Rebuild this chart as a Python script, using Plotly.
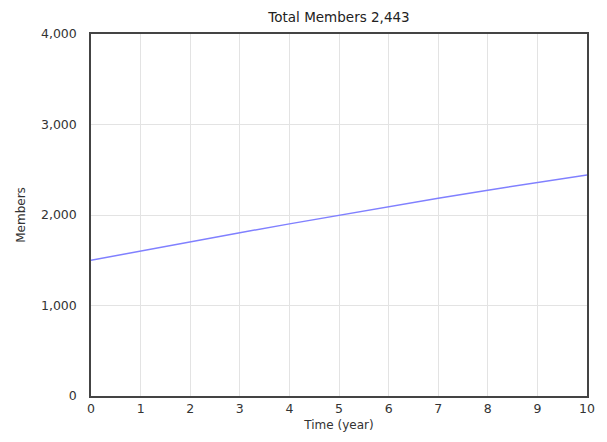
import plotly.graph_objects as go

years = [0, 1, 2, 3, 4, 5, 6, 7, 8, 9, 10]
members = [1500, 1603, 1705, 1804, 1902, 1998, 2092, 2184, 2274, 2360, 2443]
title_text = "Total Members 2,443"
x_title = "Time (year)"
y_title = "Members"

font_family = "DejaVu Sans, Verdana, sans-serif"

fig = go.Figure()
fig.add_trace(go.Scatter(x=years, y=members, mode="lines",
                         line=dict(color="#8080ff", width=1.5),
                         hoverinfo="skip", showlegend=False))

fig.update_layout(
    width=599, height=434,
    paper_bgcolor="white", plot_bgcolor="white",
    margin=dict(l=79, r=16, t=26, b=38),
    font=dict(family=font_family, color="#333333", size=12),
    title=dict(text=title_text, x=0.5526, xanchor="center", y=0.979, yanchor="middle",
               font=dict(size=13.5, color="#222222")),
)
fig.update_xaxes(range=[0, 10], dtick=1, showgrid=True, gridcolor="#e3e3e3", gridwidth=1,
                 showline=True, linecolor="#444444", linewidth=1.5, mirror=True,
                 zeroline=False, ticks="", tickfont=dict(size=12.5),
                 title=dict(text=x_title, font=dict(size=12), standoff=6))
fig.update_yaxes(range=[0, 4000], dtick=1000, tickformat=",", showgrid=True, gridcolor="#e3e3e3",
                 gridwidth=1, showline=True, linecolor="#444444", linewidth=1.5, mirror=True,
                 zeroline=False, ticks="", ticklabelstandoff=10, tickfont=dict(size=12.5),
                 title=dict(text=y_title, font=dict(size=12), standoff=13))

fig.write_html("out.html")
